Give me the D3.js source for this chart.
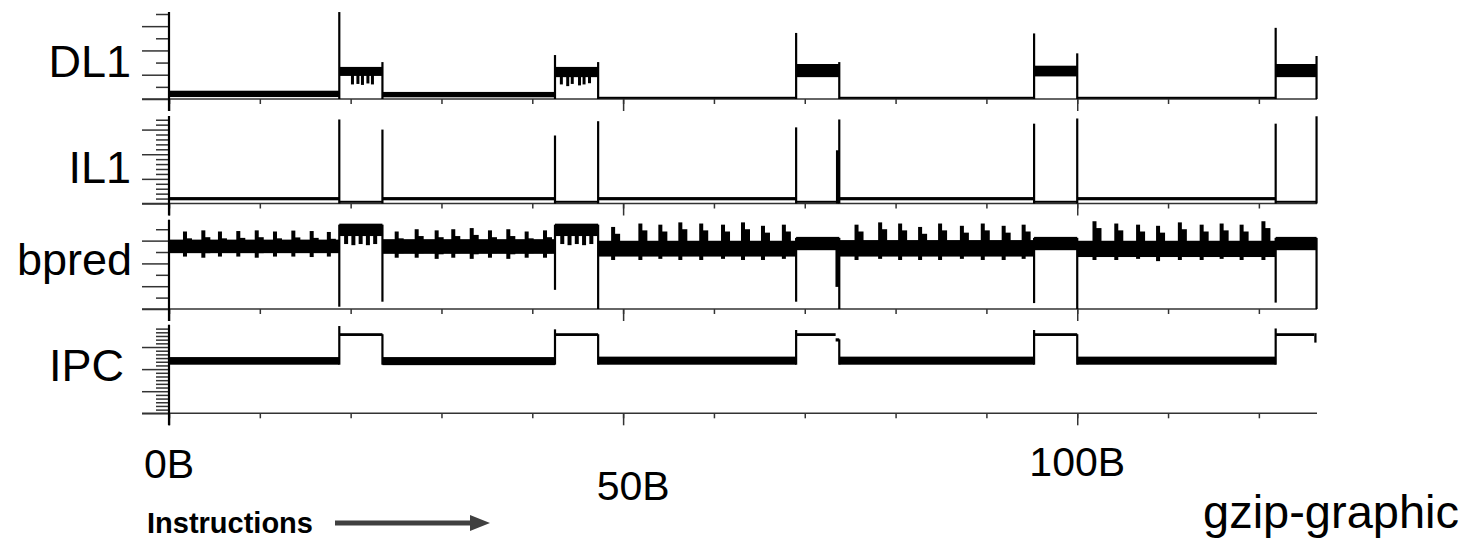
<!DOCTYPE html>
<html>
<head>
<meta charset="utf-8">
<script src="https://cdn.jsdelivr.net/npm/d3@7"></script>
<style>
  body { margin: 0; background: #fff; }
  text { font-family: "Liberation Sans", Arial, Helvetica, sans-serif; fill: #000; }
</style>
</head>
<body>
<svg id="chart" width="1470" height="541"></svg>
<script>
// ---- data (x in billions of instructions) ----
var panelNames = ["DL1", "IL1", "bpred", "IPC"];
var xTickValues = [0, 10, 20, 30, 40, 50, 60, 70, 80, 90, 100, 110, 120];
var xLabelValues = [0, 50, 100];
var xLabels = ["0B", "50B", "100B"];

// band segments: [x0, x1, low, high]
var dl1Bands = [
    [0, 18.75, 0.08, 0.3], [18.75, 23.5, 0.95, 1.28], [23.5, 42.5, 0.07, 0.25],
    [42.5, 47.25, 0.9, 1.28], [47.25, 69.05, 0.01, 0.05], [69.05, 73.8, 0.9, 1.4],
    [73.8, 95.25, 0.01, 0.05], [95.25, 100.0, 0.93, 1.33], [100.0, 121.85, 0.01, 0.05],
    [121.85, 126.35, 0.9, 1.4]
];
var il1Bands = [
    [0, 18.75, 0.13, 0.22], [18.75, 23.5, 0.03, 0.07], [23.5, 42.5, 0.13, 0.22],
    [42.5, 47.25, 0.03, 0.07], [47.25, 69.05, 0.13, 0.22], [69.05, 73.8, 0.03, 0.07],
    [73.8, 95.25, 0.13, 0.22], [95.25, 100.0, 0.03, 0.07], [100.0, 121.85, 0.13, 0.22],
    [121.85, 126.35, 0.03, 0.07]
];
var bpredBands = [
    [0, 18.75, 2.45, 3.0], [18.75, 23.5, 3.2, 3.7], [23.5, 42.5, 2.42, 3.02],
    [42.5, 47.25, 3.2, 3.7], [47.25, 69.05, 2.3, 2.95], [69.05, 73.8, 2.58, 3.12],
    [73.8, 95.25, 2.3, 2.98], [95.25, 100.0, 2.58, 3.12], [100.0, 121.85, 2.28, 2.95],
    [121.85, 126.35, 2.58, 3.12]
];
var ipcBands = [
    [0, 18.75, 2.2, 2.5], [18.75, 23.5, 3.5, 3.58], [23.5, 42.5, 2.18, 2.5],
    [42.5, 47.25, 3.5, 3.58], [47.25, 69.05, 2.2, 2.52], [69.05, 73.4, 3.5, 3.58],
    [73.4, 73.8, 3.25, 3.35], [73.8, 95.25, 2.2, 2.52], [95.25, 100.0, 3.5, 3.58],
    [100.0, 121.85, 2.2, 2.52], [121.85, 126.1, 3.5, 3.58], [126.1, 126.35, 3.2, 3.58]
];

// vertical transition strokes: [x, from, to]
var dl1Edges = [
    [18.75, 0, 3.58], [23.5, 0, 1.52], [42.5, 0, 1.81], [47.25, 0, 1.52], [69.05, 0, 2.72],
    [73.8, 0, 1.52], [95.25, 0, 2.70], [100.0, 0, 1.88], [121.85, 0, 2.93], [126.35, 0, 1.77]
];
var il1Edges = [
    [18.75, 0, 3.41], [23.5, 0, 3.0], [42.5, 0, 2.76], [47.25, 0, 3.34], [69.05, 0, 3.09],
    [73.8, 0, 3.41], [95.25, 0, 3.24], [100.0, 0, 3.45], [121.85, 0, 3.24], [126.35, 0, 3.54]
];
var bpredEdges = [
    [18.75, 0.1, 3.7], [23.5, 0.32, 3.7], [42.5, 0.84, 3.7], [47.25, 0, 3.7], [69.05, 0.32, 3.12],
    [73.8, 0, 3.12], [95.25, 0.26, 3.12], [100.0, 0, 3.12], [121.85, 0.28, 3.12], [126.35, 0, 3.12]
];
var ipcEdges = [
    [18.75, 2.2, 3.95], [23.5, 2.2, 3.58], [42.5, 2.2, 3.8], [47.25, 2.2, 3.58], [69.05, 2.2, 3.77],
    [73.8, 2.2, 3.35], [95.25, 2.2, 3.77], [100.0, 2.2, 3.58], [121.85, 2.2, 3.84]
];

// narrow spikes and dips: [x, low, high]
var dl1Spikes = [
    [20.2, 0.6, 1.1], [20.8, 0.62, 1.1], [21.3, 0.58, 1.1], [21.9, 0.64, 1.1], [22.4, 0.6, 1.1],
    [43.2, 0.6, 1.1], [43.9, 0.53, 1.1], [44.4, 0.62, 1.1], [45.2, 0.56, 1.1], [45.7, 0.6, 1.1], [46.3, 0.65, 1.1]
];
var il1Spikes = [[73.6, 0, 2.16]];
var bpredSpikes = [
    [1.76, 2.3, 3.4], [3.78, 2.25, 3.45], [5.61, 2.3, 3.4], [7.63, 2.3, 3.42], [9.66, 2.25, 3.45],
    [11.67, 2.3, 3.4], [13.69, 2.3, 3.44], [15.71, 2.28, 3.42], [17.6, 2.3, 3.38],
    [19.5, 2.85, 3.4], [20.3, 2.8, 3.4], [21.1, 2.85, 3.4], [21.9, 2.8, 3.4], [22.7, 2.85, 3.4],
    [25.07, 2.25, 3.4], [27.27, 2.25, 3.5], [29.47, 2.2, 3.45], [31.3, 2.25, 3.5], [33.33, 2.2, 3.55],
    [35.34, 2.25, 3.45], [37.36, 2.2, 3.5], [39.38, 2.25, 3.4], [41.4, 2.25, 3.45],
    [43.3, 2.85, 3.4], [44.1, 2.8, 3.4], [44.9, 2.85, 3.4], [45.7, 2.8, 3.4], [46.5, 2.85, 3.4],
    [48.9, 2.15, 3.6], [51.9, 2.15, 3.75], [54.1, 2.2, 3.7], [56.3, 2.15, 3.8], [58.6, 2.15, 3.75],
    [61.0, 2.2, 3.7], [63.2, 2.15, 3.8], [65.4, 2.15, 3.65], [67.7, 2.2, 3.7],
    [73.6, 0.97, 2.6],
    [75.7, 2.15, 3.7], [78.3, 2.2, 3.8], [80.5, 2.15, 3.75], [82.7, 2.15, 3.6], [84.9, 2.15, 3.75],
    [87.3, 2.2, 3.65], [89.6, 2.15, 3.75], [91.9, 2.15, 3.65], [94.1, 2.2, 3.7],
    [101.9, 2.15, 3.85], [104.3, 2.15, 3.75], [106.7, 2.2, 3.7], [108.9, 2.1, 3.65], [111.3, 2.15, 3.8],
    [113.7, 2.15, 3.7], [115.9, 2.2, 3.75], [118.1, 2.15, 3.7], [120.5, 2.15, 3.85]
];
var ipcSpikes = [];

var panelBands = [dl1Bands, il1Bands, bpredBands, ipcBands];
var panelEdges = [dl1Edges, il1Edges, bpredEdges, ipcEdges];
var panelSpikes = [dl1Spikes, il1Spikes, bpredSpikes, ipcSpikes];

// ---- layout ----
var axisLeftX = 169;
var axisRightX = 1317;
var panelBase = [99, 203.5, 309, 413.3];
var panelTop = [14, 118, 221.7, 326.7];
var panelDomainTop = [3.5, 3.47, 3.83, 3.92];
var minorStep = [0.5, 0.2, 0.5, 1 / 6];
var spikeWidth = [3, 3, 4, 3];

var svg = d3.select("#chart");

var x = d3.scaleLinear()
    .domain([0, 126.4])
    .range([axisLeftX, axisRightX]);

panelNames.forEach(function (name, i) {
    var y = d3.scaleLinear()
        .domain([0, panelDomainTop[i]])
        .range([panelBase[i], panelTop[i]]);

    var g = svg.append("g").attr("class", "panel");

    // y ticks: minor (short) and major (long)
    var all = d3.range(0, panelDomainTop[i] + 1e-6, minorStep[i]);
    var major = all.filter(function (v) { return Math.abs(v - Math.round(v)) < 1e-6; });
    var minor = all.filter(function (v) { return Math.abs(v - Math.round(v)) >= 1e-6; });

    var yMajor = g.append("g")
        .attr("transform", "translate(" + axisLeftX + ",0)")
        .call(d3.axisLeft(y).tickValues(major).tickSize(27).tickFormat(""));
    var yMinor = g.append("g")
        .attr("transform", "translate(" + axisLeftX + ",0)")
        .call(d3.axisLeft(y).tickValues(minor).tickSize(13).tickFormat(""));

    // x ticks
    var xSmall = g.append("g")
        .attr("transform", "translate(0," + panelBase[i] + ")")
        .call(d3.axisBottom(x).tickValues(xTickValues).tickSize(5).tickFormat(""));
    var xBig = g.append("g")
        .attr("transform", "translate(0," + panelBase[i] + ")")
        .call(d3.axisBottom(x).tickValues(xLabelValues).tickSize(12).tickFormat(""));

    [yMajor, yMinor, xSmall, xBig].forEach(function (a) {
        a.select(".domain").remove();
        a.selectAll(".tick line").attr("stroke", "#333").attr("stroke-width", 1.5);
    });

    // baseline and y axis line
    g.append("line")
        .attr("x1", axisLeftX - 27).attr("x2", axisRightX)
        .attr("y1", panelBase[i]).attr("y2", panelBase[i])
        .attr("stroke", "#333").attr("stroke-width", 1.5);
    g.append("line")
        .attr("x1", axisLeftX).attr("x2", axisLeftX)
        .attr("y1", panelTop[i] - 2).attr("y2", panelBase[i] + 12)
        .attr("stroke", "#000").attr("stroke-width", 2.2);

    // signal bands
    g.selectAll(".band")
        .data(panelBands[i])
        .enter()
        .append("rect")
        .attr("class", "band")
        .attr("x", function (d) { return x(d[0]); })
        .attr("width", function (d) { return x(d[1]) - x(d[0]); })
        .attr("y", function (d) { return y(d[3]) - 1; })
        .attr("height", function (d) { return Math.max(2, y(d[2]) - y(d[3]) + 1); })
        .attr("fill", "#000");

    // transitions
    g.selectAll(".edge")
        .data(panelEdges[i])
        .enter()
        .append("line")
        .attr("class", "edge")
        .attr("x1", function (d) { return x(d[0]); })
        .attr("x2", function (d) { return x(d[0]); })
        .attr("y1", function (d) { return y(d[1]); })
        .attr("y2", function (d) { return y(d[2]); })
        .attr("stroke", "#000")
        .attr("stroke-width", 2.2);

    // shoulders next to the periodic bpred peaks
    g.selectAll(".shoulder")
        .data(panelSpikes[i].filter(function (d) { return i === 2 && d[1] > 2 && d[1] < 2.5; }))
        .enter()
        .append("rect")
        .attr("class", "shoulder")
        .attr("x", function (d) { return x(d[0]) - 1; })
        .attr("width", 8)
        .attr("y", function (d) { return y(d[2] - 0.3); })
        .attr("height", function (d) { return y(d[1] + 0.2) - y(d[2] - 0.3); })
        .attr("fill", "#000");

    // spikes
    g.selectAll(".spike")
        .data(panelSpikes[i])
        .enter()
        .append("rect")
        .attr("class", "spike")
        .attr("x", function (d) { return x(d[0]) - spikeWidth[i] / 2; })
        .attr("width", spikeWidth[i])
        .attr("y", function (d) { return y(d[2]); })
        .attr("height", function (d) { return y(d[1]) - y(d[2]); })
        .attr("fill", "#000");
});

// row labels
var labelRight = [131, 131, 132, 124];
var labelBase = [77, 183, 275, 381];
svg.selectAll(".rowlabel")
    .data(panelNames)
    .enter()
    .append("text")
    .attr("class", "rowlabel")
    .attr("x", function (d, i) { return labelRight[i]; })
    .attr("y", function (d, i) { return labelBase[i]; })
    .attr("text-anchor", "end")
    .style("font-size", "45px")
    .text(function (d) { return d; });

// x tick labels
var xLabelDx = [0, 10, 0];
var xLabelBase = [478, 500, 476];
svg.selectAll(".xlabel")
    .data(xLabels)
    .enter()
    .append("text")
    .attr("class", "xlabel")
    .attr("x", function (d, i) { return x(xLabelValues[i]) + xLabelDx[i]; })
    .attr("y", function (d, i) { return xLabelBase[i]; })
    .attr("text-anchor", "middle")
    .style("font-size", "41px")
    .text(function (d) { return d; });

svg.append("text")
    .attr("x", 1203)
    .attr("y", 528)
    .style("font-size", "47px")
    .text("gzip-graphic");

svg.append("text")
    .attr("x", 147)
    .attr("y", 533)
    .style("font-size", "29px")
    .style("font-weight", "bold")
    .text("Instructions");

// arrow
svg.append("line")
    .attr("x1", 335).attr("x2", 472)
    .attr("y1", 523).attr("y2", 523)
    .attr("stroke", "#404040")
    .attr("stroke-width", 5);
svg.append("path")
    .attr("d", "M470,515 L490,523 L470,531 Z")
    .attr("fill", "#404040");
</script>
</body>
</html>
